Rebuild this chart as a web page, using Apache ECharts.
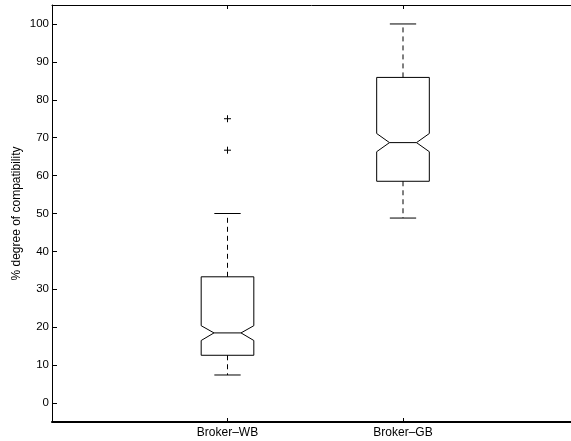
<!DOCTYPE html>
<html>
<head>
<meta charset="utf-8">
<script src="https://cdn.jsdelivr.net/npm/echarts@6/dist/echarts.min.js"></script>
<style>
  html, body { margin: 0; padding: 0; background: #fff; }
  #chart { width: 571px; height: 441px; }
</style>
</head>
<body>
<div id="chart"></div>
<script>
// Groups along the horizontal axis and their positions
const categories = ['Broker\u2013WB', 'Broker\u2013GB'];
const positions = [1, 2];

// Notched box statistics per group (percent)
const whiskerLow  = [7.4, 48.8];
const quartile1   = [12.6, 58.5];
const notchLow    = [16.5, 66.3];
const median      = [18.5, 68.7];
const notchHigh   = [20.4, 71.1];
const quartile3   = [33.3, 85.9];
const whiskerHigh = [50.0, 100.0];

// Outliers: [group position, value]
const outliers = [[1, 75.0], [1, 66.7]];

// Y tick labels
const yTicks = [0, 10, 20, 30, 40, 50, 60, 70, 80, 90, 100];

const boxData = positions.map((p, i) => [
  p, whiskerLow[i], quartile1[i], notchLow[i], median[i],
  notchHigh[i], quartile3[i], whiskerHigh[i]
]);

const BOX_HALF = 0.15;   // in x-axis units
const NOTCH_HALF = 0.077;
const CAP_HALF = 0.075;
const lineColor = '#000';

function renderBox(params, api) {
  const x = api.value(0);
  const wlo = api.value(1), q1 = api.value(2), nlo = api.value(3),
        med = api.value(4), nhi = api.value(5), q3 = api.value(6),
        whi = api.value(7);
  const c = (xx, yy) => api.coord([xx, yy]);
  const outline = [
    c(x - BOX_HALF, q1), c(x + BOX_HALF, q1), c(x + BOX_HALF, nlo),
    c(x + NOTCH_HALF, med), c(x + BOX_HALF, nhi), c(x + BOX_HALF, q3),
    c(x - BOX_HALF, q3), c(x - BOX_HALF, nhi), c(x - NOTCH_HALF, med),
    c(x - BOX_HALF, nlo)
  ];
  const solid = { stroke: lineColor, lineWidth: 1, fill: null };
  const dashed = { stroke: lineColor, lineWidth: 1, lineDash: [5, 4] };
  const seg = (a, b, style) => ({
    type: 'line',
    shape: { x1: a[0], y1: a[1], x2: b[0], y2: b[1] },
    style: style
  });
  return {
    type: 'group',
    children: [
      { type: 'polygon', shape: { points: outline }, style: { stroke: lineColor, lineWidth: 1, fill: 'none' } },
      seg(c(x - NOTCH_HALF, med), c(x + NOTCH_HALF, med), solid),
      seg(c(x, q3), c(x, whi), dashed),
      seg(c(x, q1), c(x, wlo), dashed),
      seg(c(x - CAP_HALF, whi), c(x + CAP_HALF, whi), solid),
      seg(c(x - CAP_HALF, wlo), c(x + CAP_HALF, wlo), solid)
    ]
  };
}

function renderPlus(params, api) {
  const p = api.coord([api.value(0), api.value(1)]);
  const r = 3.5;
  const style = { stroke: lineColor, lineWidth: 1 };
  return {
    type: 'group',
    children: [
      { type: 'line', shape: { x1: p[0] - r, y1: p[1], x2: p[0] + r, y2: p[1] }, style },
      { type: 'line', shape: { x1: p[0], y1: p[1] - r, x2: p[0], y2: p[1] + r }, style }
    ]
  };
}

const font = 'Liberation Sans, Arial, Helvetica, sans-serif';
const axisLineStyle = { color: '#000', width: 1 };

// The plotting box runs on past the right edge of the canvas, so the
// x range is cut where the canvas ends (one group step is 175.5 px).
const X_MAX = (571 - 52) / 175.5;

const chart = echarts.init(document.getElementById('chart'), null, { renderer: 'canvas' });
chart.setOption({
  animation: false,
  backgroundColor: '#fff',
  grid: { left: 52, right: 0, top: 5, bottom: 19, containLabel: false },
  xAxis: [
    {
      type: 'value', min: 0, max: X_MAX, position: 'bottom',
      axisLine: { show: true, onZero: false, lineStyle: { color: '#000', width: 2 } },
      axisTick: { show: true, inside: true, length: 4, customValues: positions, lineStyle: axisLineStyle },
      axisLabel: {
        customValues: positions, margin: 5, color: '#000', fontSize: 12, fontFamily: font,
        formatter: v => categories[positions.indexOf(v)] || ''
      },
      splitLine: { show: false }
    },
    {
      type: 'value', min: 0, max: X_MAX, position: 'top',
      axisLine: { show: true, onZero: false, lineStyle: axisLineStyle },
      axisTick: { show: true, inside: true, length: 4, customValues: positions, lineStyle: axisLineStyle },
      axisLabel: { show: false },
      splitLine: { show: false }
    }
  ],
  yAxis: [
    {
      type: 'value', min: -5, max: 105, position: 'left',
      name: '% degree of compatibility', nameLocation: 'middle', nameGap: 29,
      nameMoveOverlap: false,
      nameTextStyle: { color: '#000', fontSize: 12, fontFamily: font },
      axisLine: { show: true, onZero: false, lineStyle: axisLineStyle },
      axisTick: { show: true, inside: true, length: 5, customValues: yTicks, lineStyle: axisLineStyle },
      axisLabel: { customValues: yTicks, margin: 3, color: '#000', fontSize: 11.5, fontFamily: font },
      splitLine: { show: false }
    }
  ],
  series: [
    {
      type: 'custom', xAxisIndex: 0, yAxisIndex: 0,
      renderItem: renderBox, data: boxData,
      encode: { x: 0, y: [1, 7] }, silent: true
    },
    {
      type: 'custom', xAxisIndex: 0, yAxisIndex: 0,
      renderItem: renderPlus, data: outliers,
      encode: { x: 0, y: 1 }, silent: true
    }
  ]
});
</script>
</body>
</html>
